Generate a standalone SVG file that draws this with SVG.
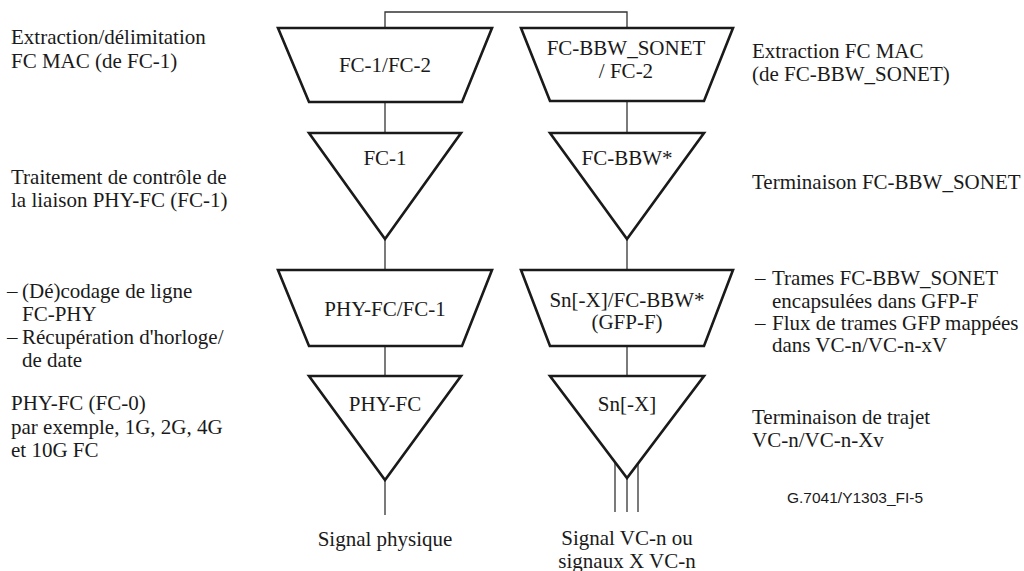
<svg xmlns="http://www.w3.org/2000/svg" width="1024" height="571" viewBox="0 0 1024 571">
<style>
.shape{fill:#fff;stroke:#1a1a1a;stroke-width:2.6;stroke-linejoin:miter}
.conn{fill:none;stroke:#333;stroke-width:1.3}
.c{text-anchor:middle}
</style>
<rect width="1024" height="571" fill="#fff"/>
<g id="connectors">
<polyline class="conn" points="385,28 385,12 627,12 627,28"/>
<line class="conn" x1="385" y1="102" x2="385" y2="133"/>
<line class="conn" x1="385" y1="239" x2="385" y2="270"/>
<line class="conn" x1="385" y1="346" x2="385" y2="376"/>
<line class="conn" x1="385" y1="480" x2="385" y2="515"/>
<line class="conn" x1="627" y1="101" x2="627" y2="133"/>
<line class="conn" x1="627" y1="239" x2="627" y2="270"/>
<line class="conn" x1="627" y1="346" x2="627" y2="376"/>
<line class="conn" x1="627" y1="478" x2="627" y2="512"/>
<line class="conn" x1="615" y1="462" x2="615" y2="512"/>
<line class="conn" x1="638" y1="462" x2="638" y2="512"/>
</g>
<g font-family="Liberation Serif, Times New Roman, DejaVu Serif, serif" font-size="21" fill="#1a1a1a">
<g id="n-fc1fc2">
<polygon class="shape" points="278,28 492,28 462,102 309,102"/>
<text class="c" x="385" y="72">FC-1/FC-2</text>
</g>
<g id="n-fc1">
<polygon class="shape" points="309,133 461,133 385,239"/>
<text class="c" x="385" y="165">FC-1</text>
</g>
<g id="n-phyfc-fc1">
<polygon class="shape" points="278,270 492,270 462,346 309,346"/>
<text class="c" x="385" y="316">PHY-FC/FC-1</text>
</g>
<g id="n-phyfc">
<polygon class="shape" points="309,376 461,376 385,480"/>
<text class="c" x="385" y="411">PHY-FC</text>
</g>
<g id="n-bbwsonet">
<polygon class="shape" points="521,28 733,28 704,101 550,101"/>
<text class="c" x="626" y="55">FC-BBW_SONET</text>
<text class="c" x="626" y="78">/ FC-2</text>
</g>
<g id="n-fcbbw">
<polygon class="shape" points="550,133 704,133 627,239"/>
<text class="c" x="627" y="165">FC-BBW*</text>
</g>
<g id="n-snx-fcbbw">
<polygon class="shape" points="521,270 733,270 704,346 550,346"/>
<text class="c" x="627" y="307">Sn[-X]/FC-BBW*</text>
<text class="c" x="627" y="329">(GFP-F)</text>
</g>
<g id="n-snx">
<polygon class="shape" points="550,376 704,376 627,478"/>
<text class="c" x="627" y="411">Sn[-X]</text>
</g>
<g id="labels">
<text x="11" y="44">Extraction/délimitation</text>
<text x="11" y="68">FC MAC (de FC-1)</text>
<text x="11" y="184">Traitement de contrôle de</text>
<text x="11" y="207">la liaison PHY-FC (FC-1)</text>
<text x="7" y="298">–</text>
<text x="22" y="298">(Dé)codage de ligne</text>
<text x="22" y="321">FC-PHY</text>
<text x="7" y="344">–</text>
<text x="22" y="344">Récupération d'horloge/</text>
<text x="22" y="367">de date</text>
<text x="11" y="410">PHY-FC (FC-0)</text>
<text x="11" y="434">par exemple, 1G, 2G, 4G</text>
<text x="11" y="457">et 10G FC</text>
<text x="752" y="58">Extraction FC MAC</text>
<text x="752" y="81">(de FC-BBW_SONET)</text>
<text x="752" y="189">Terminaison FC-BBW_SONET</text>
<text x="755" y="285">–</text>
<text x="772" y="285">Trames FC-BBW_SONET</text>
<text x="772" y="308">encapsulées dans GFP-F</text>
<text x="755" y="330">–</text>
<text x="772" y="330">Flux de trames GFP mappées</text>
<text x="772" y="352">dans VC-n/VC-n-xV</text>
<text x="752" y="424">Terminaison de trajet</text>
<text x="752" y="447">VC-n/VC-n-Xv</text>
<text class="c" x="385" y="546">Signal physique</text>
<text class="c" x="627" y="545">Signal VC-n ou</text>
<text class="c" x="627" y="568">signaux X VC-n</text>
</g>
</g>
<g id="ref-label">
<text x="787" y="503" font-family="Liberation Sans, Arial, sans-serif" font-size="15.5" fill="#1a1a1a">G.7041/Y1303_FI-5</text>
</g>
</svg>
